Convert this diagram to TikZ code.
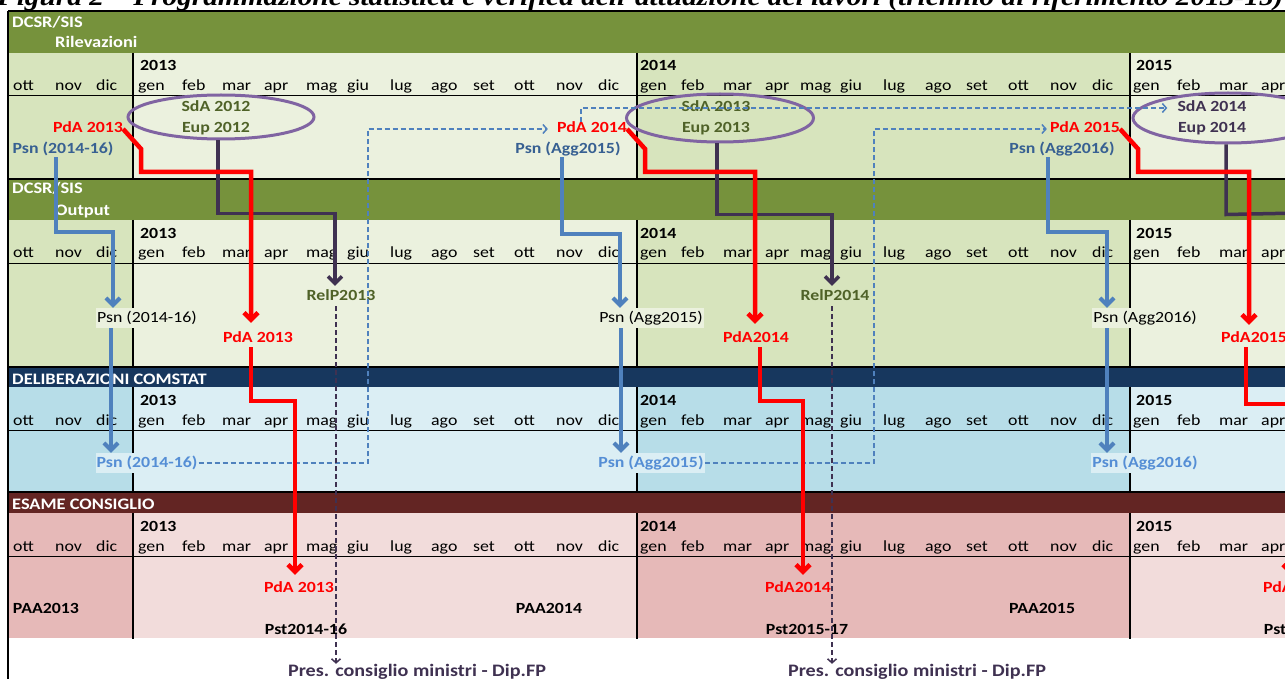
\documentclass[tikz,border=0pt]{standalone}
\usepackage{fontspec}
\setmainfont{Carlito}[FakeStretch=1.15]
\newfontfamily\titlefont{Liberation Serif}[FakeStretch=1.15]
\usetikzlibrary{arrows.meta,calc,shapes.geometric}
\definecolor{bandgreen}{HTML}{76923C}
\definecolor{gdark}{HTML}{D7E4BD}
\definecolor{glight}{HTML}{EBF1DE}
\definecolor{bandblue}{HTML}{17375E}
\definecolor{bdark}{HTML}{B7DDE8}
\definecolor{blight}{HTML}{DBEEF4}
\definecolor{bandred}{HTML}{632523}
\definecolor{rdark}{HTML}{E6B9B8}
\definecolor{rlight}{HTML}{F2DCDB}
\definecolor{lineblue}{HTML}{4F81BD}
\definecolor{psnblue}{HTML}{376092}
\definecolor{psnlight}{HTML}{558ED5}
\definecolor{ellpurple}{HTML}{8064A2}
\definecolor{darkpurple}{HTML}{3F3151}
\definecolor{olivetxt}{HTML}{4F6228}
\definecolor{pdared}{HTML}{FF0000}
\begin{document}
\begin{tikzpicture}[x=1pt,y=-1pt,
  monthlbl/.style={font=\fontsize{15.5}{17}\selectfont, anchor=base west, inner sep=0pt},
  yearlbl/.style={font=\bfseries\fontsize{15.5}{17}\selectfont, anchor=base west, inner sep=0pt},
  bandtxt/.style={font=\bfseries\fontsize{16}{18}\selectfont, text=white, anchor=base west, inner sep=0pt},
  lbl/.style={font=\bfseries\fontsize{15.5}{17}\selectfont, anchor=base, inner sep=0pt, text height=11pt, text depth=3pt},
  boxlbl/.style={font=\fontsize{15.5}{17}\selectfont, anchor=base, inner xsep=1pt, inner ysep=3pt, text height=11pt, text depth=3pt},
  ellbox/.style={ellipse, draw=ellpurple, line width=3pt, inner sep=0pt},
  redline/.style={draw=pdared, line width=4.5pt, -{Straight Barb[length=7pt,width=14pt]}},
  redplain/.style={draw=pdared, line width=4.5pt},
  purpline/.style={draw=darkpurple, line width=3.5pt, -{Straight Barb[length=7pt,width=14pt]}},
  purpplain/.style={draw=darkpurple, line width=3.5pt},
  blueline/.style={draw=lineblue, line width=4pt, -{Straight Barb[length=7pt,width=14pt]}},
  bluedash/.style={draw=lineblue, line width=1.5pt, dash pattern=on 5pt off 3pt, -{Straight Barb[length=4pt,width=9pt]}},
  purpdash/.style={draw=darkpurple, line width=1.5pt, dash pattern=on 5pt off 3pt, -{Straight Barb[length=4pt,width=9pt]}},
  gridthin/.style={draw=black, line width=1pt},
  gridthick/.style={draw=black, line width=1.8pt}
]
\useasboundingbox (0,0) rectangle (1285,679);
\clip (0,0) rectangle (1285,679);
\fill[white] (0,0) rectangle (1285,679);

% title (cut off at the top)
\node[anchor=base west, inner sep=0pt, font=\titlefont\bfseries\itshape\fontsize{25.5}{28}\selectfont] (title) at (-3,6) {Figura 2 – Programmazione statistica e verifica dell’attuazione dei lavori (triennio di riferimento 2013-15)};

% backgrounds
\foreach \t/\b/\dk/\lt in {53/179/gdark/glight, 220/367/gdark/glight, 387/492/bdark/blight, 513/638/rdark/rlight}{
  \fill[\dk] (8,\t) rectangle (133,\b);
  \fill[\lt] (133,\t) rectangle (637,\b);
  \fill[\dk] (637,\t) rectangle (1130,\b);
  \fill[\lt] (1130,\t) rectangle (1295,\b);
}
\fill[bandgreen] (8,11) rectangle (1295,53);
\fill[bandgreen] (8,179) rectangle (1295,220);
\fill[bandblue] (8,367) rectangle (1295,387);
\fill[bandred] (8,492) rectangle (1295,513);

% grid lines
\foreach \t/\b in {53/179, 220/367, 387/492, 513/639}{
  \draw[gridthin] (8,{\t+43}) -- (1295,{\t+43});
  \foreach \x in {133,637,1130} \draw[gridthick] (\x,\t) -- (\x,\b);
}
\foreach \y in {11,179,367,492} \draw[gridthick] (8,\y) -- (1295,\y);
\draw[gridthick] (8,11) -- (8,679);

% band titles
\node[bandtxt] (h1a) at (12,28) {DCSR/SIS};
\node[bandtxt] (h1b) at (55,48) {Rilevazioni};
\node[bandtxt] (h2a) at (12,194) {DCSR/SIS};
\node[bandtxt] (h2b) at (55,215) {Output};
\node[bandtxt] (h3) at (12,384) {DELIBERAZIONI COMSTAT};
\node[bandtxt] (h4) at (12,509) {ESAME CONSIGLIO};

% calendar rows
\foreach \t in {53,220,387,513}{
  \node[yearlbl] (y13-\t) at (140,{\t+18}) {2013};
  \node[yearlbl] (y14-\t) at (640,{\t+18}) {2014};
  \node[yearlbl] (y15-\t) at (1136,{\t+18}) {2015};
  \foreach \x/\m in {13/ott,55/nov,96/dic,138/gen,182/feb,222/mar,264/apr,306/mag,347/giu,390/lug,431/ago,473/set,514/ott,556/nov,598/dic,640/gen,681/feb,723/mar,765/apr,800/mag,840/giu,883/lug,925/ago,966/set,1008/ott,1050/nov,1092/dic,1133/gen,1177/feb,1219/mar,1261/apr}
    \node[monthlbl] (m\t-\x) at (\x,{\t+38}) {\m};
}

% section 1: Rilevazioni
\node[lbl, text=olivetxt] (sda12) at (216,112) {SdA 2012};
\node[lbl, text=olivetxt] (eup12) at (216,133) {Eup 2012};
\node[lbl, text=pdared] (pda13a) at (88,133) {PdA 2013};
\node[lbl, text=psnblue] (psn13a) at (63,154) {Psn (2014-16)};
\node[ellbox, minimum width=186pt, minimum height=44pt] (ell12) at (221,117) {};

\node[lbl, text=olivetxt] (sda13) at (716,112) {SdA 2013};
\node[lbl, text=olivetxt] (eup13) at (716,133) {Eup 2013};
\node[lbl, text=pdared] (pda14a) at (592,133) {PdA 2014};
\node[lbl, text=psnblue] (psn14a) at (568,154) {Psn (Agg2015)};
\node[ellbox, minimum width=187pt, minimum height=48pt] (ell13) at (720,118) {};

\node[lbl, text=darkpurple] (sda14) at (1212,112) {SdA 2014};
\node[lbl, text=darkpurple] (eup14) at (1212,133) {Eup 2014};
\node[lbl, text=pdared] (pda15a) at (1085,133) {PdA 2015};
\node[lbl, text=psnblue] (psn15a) at (1062,154) {Psn (Agg2016)};
\node[ellbox, minimum width=190pt, minimum height=50pt] (ell14) at (1228,118) {};

% section 2: Output
\node[lbl, text=olivetxt] (relp13) at (341,300) {RelP2013};
\node[boxlbl, fill=glight] (psn13b) at (147,322) {Psn (2014-16)};
\node[lbl, text=pdared] (pda13b) at (258,342) {PdA 2013};
\node[lbl, text=olivetxt] (relp14) at (835,300) {RelP2014};
\node[boxlbl, fill=glight] (psn14b) at (651,322) {Psn (Agg2015)};
\node[lbl, text=pdared] (pda14b) at (756,342) {PdA2014};
\node[boxlbl, fill=glight] (psn15b) at (1145,322) {Psn (Agg2016)};
\node[lbl, text=pdared] (pda15b) at (1254,342) {PdA2015};

% section 3: Deliberazioni
\node[boxlbl, font=\bfseries\fontsize{15.5}{17}\selectfont, text=psnlight, fill=blight] (psn13c) at (147,467) {Psn (2014-16)};
\node[boxlbl, font=\bfseries\fontsize{15.5}{17}\selectfont, text=psnlight, fill=blight] (psn14c) at (651,467) {Psn (Agg2015)};
\node[boxlbl, font=\bfseries\fontsize{15.5}{17}\selectfont, text=psnlight, fill=blight] (psn15c) at (1145,467) {Psn (Agg2016)};

% section 4: Esame consiglio
\node[lbl, text=pdared] (pda13c) at (299,592) {PdA 2013};
\node[lbl] (paa13) at (46,613) {PAA2013};
\node[lbl] (pst13) at (306,634) {Pst2014-16};
\node[lbl, text=pdared] (pda14c) at (798,592) {PdA2014};
\node[lbl] (paa14) at (549,613) {PAA2014};
\node[lbl] (pst14) at (807,634) {Pst2015-17};
\node[lbl] (paa15) at (1042,613) {PAA2015};
\node[lbl, text=pdared] (pda15c) at (1296,592) {PdA2015};
\node[lbl] (pst15) at (1305,634) {Pst2016-18};

% bottom labels
\node[lbl, font=\bfseries\fontsize{17.5}{19}\selectfont, text=darkpurple] (pres13) at (417,676) {Pres. consiglio ministri - Dip.FP};
\node[lbl, font=\bfseries\fontsize{17.5}{19}\selectfont, text=darkpurple] (pres14) at (917,676) {Pres. consiglio ministri - Dip.FP};

\coordinate (offP) at (1300,213);

% blue dashed connectors
\draw[bluedash] (psn13c.east) -| (368,129) -- ([xshift=-9pt]pda14a.west);
\draw[bluedash] (psn14c.east) -| (874,129) -- ([xshift=-3pt]pda15a.west);
\draw[bluedash] ([xshift=-11pt]pda14a.north) |- ([xshift=-10pt]sda14.west);

% purple dashed connectors
\draw[purpdash] ([xshift=-5pt,yshift=-3pt]relp13.south) coordinate (d13) -- ($(d13 |- pres13.north)+(0,-1)$);
\draw[purpdash] ([xshift=-3pt,yshift=-3pt]relp14.south) coordinate (d14) -- ($(d14 |- pres14.north)+(0,-1)$);

% purple solid connectors
\draw[purpline] ([xshift=-3pt]ell12.south) -- ++(0,73) -| ([xshift=-6pt,yshift=3pt]relp13.north);
\draw[purpline] ([xshift=-3pt]ell13.south) -- ++(0,71) -| ([xshift=-3pt,yshift=3pt]relp14.north);
\draw[purpplain] ([xshift=-2pt]ell14.south) -- ++(0,70) -- (offP);

% blue solid connectors
\draw[blueline] ([xshift=-7pt]psn13a.south) -- ++(0,75) -| ([xshift=-34pt]psn13b.north);
\draw[blueline] ([xshift=-36pt]psn13b.south) -- ([xshift=-36pt]psn13c.north);
\draw[blueline] ([xshift=-6pt]psn14a.south) -- ++(0,77) -| ([xshift=-31pt]psn14b.north);
\draw[blueline] ([xshift=-30pt]psn14b.south) -- ([xshift=-30pt]psn14c.north);
\draw[blueline] ([xshift=-14pt]psn15a.south) -- ++(0,75) -| ([xshift=-38pt]psn15b.north);
\draw[blueline] ([xshift=-38pt]psn15b.south) -- ([xshift=-38pt]psn15c.north);

% red connectors
\draw[redline] (pda13a.east) -- ++(18,20) -- ++(0,23) -| ([xshift=-7pt,yshift=8pt]pda13b.north);
\draw[redline] ([xshift=-7pt,yshift=-2pt]pda13b.south) -- ++(0,54) -| ([xshift=-4pt,yshift=6pt]pda13c.north);
\draw[redline] (pda14a.east) -- ++(18,20) -- ++(0,23) -| ([xshift=-1pt,yshift=7pt]pda14b.north);
\draw[redline] ([xshift=4pt,yshift=-2pt]pda14b.south) -- ++(0,54) -| ([xshift=5pt,yshift=6pt]pda14c.north);
\draw[redline] (pda15a.east) -- ++(18,20) -- ++(0,23) -| ([xshift=-5pt,yshift=6pt]pda15b.north);
\draw[redline] ([xshift=-8pt,yshift=-2pt]pda15b.south) -- ++(0,57) -| ([xshift=-6pt,yshift=6pt]pda15c.north);
\end{tikzpicture}
\end{document}
